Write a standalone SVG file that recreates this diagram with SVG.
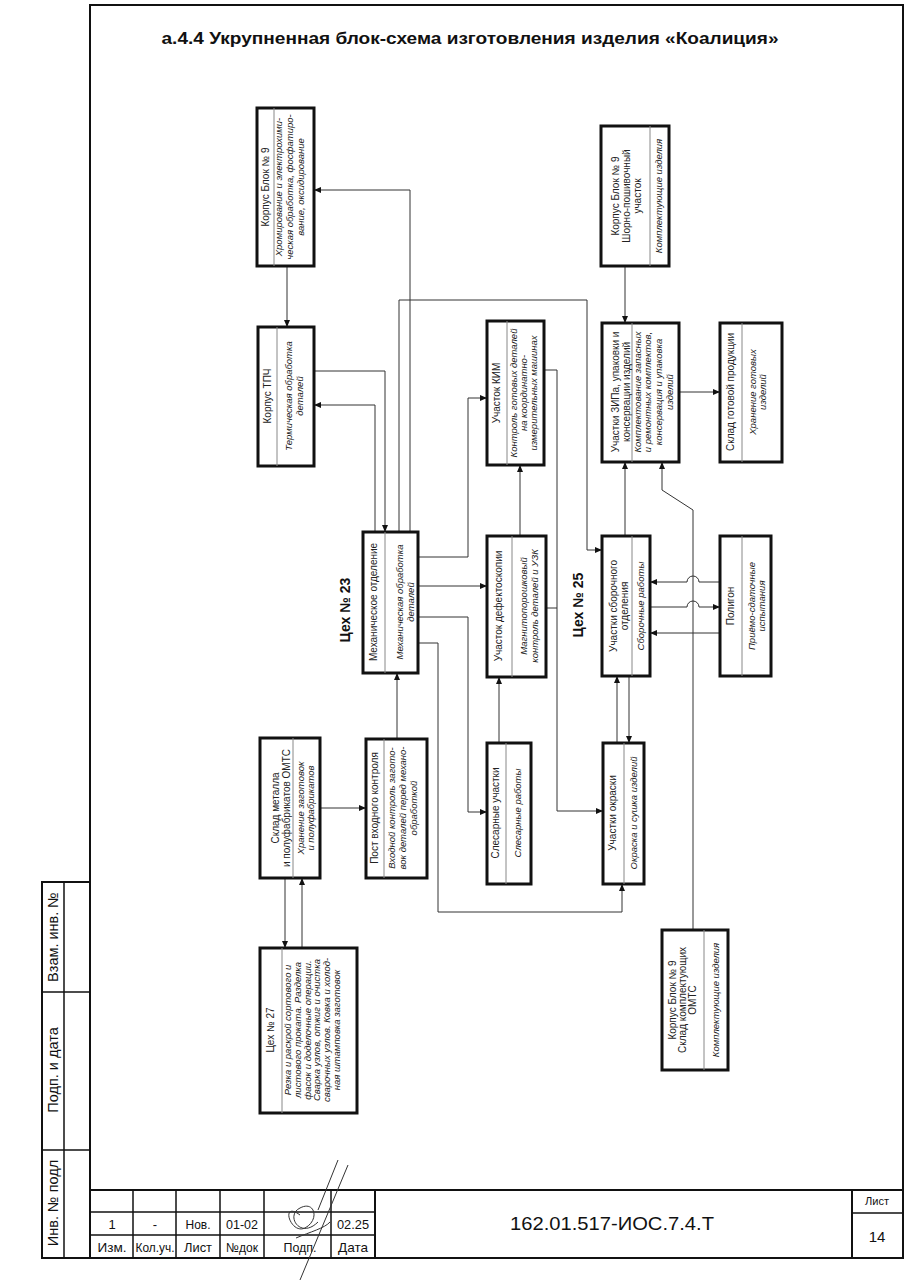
<svg xmlns="http://www.w3.org/2000/svg" width="919" height="1280" viewBox="0 0 919 1280">
<style>
.frame{fill:none;stroke:#111;stroke-width:2}
.thin{fill:none;stroke:#111;stroke-width:1.5}
.box{fill:#fff;stroke:#111;stroke-width:3}
.div{stroke:#888;stroke-width:1}
.c{fill:none;stroke:#333;stroke-width:1}
.n{font-family:"Liberation Sans",Arial,sans-serif;font-size:10px;fill:#222;text-anchor:middle}
.d{font-family:"Liberation Sans",Arial,sans-serif;font-size:9.5px;font-style:italic;fill:#222;text-anchor:middle}
.lbl{font-family:"Liberation Sans",Arial,sans-serif;font-size:14px;font-weight:bold;fill:#111;text-anchor:middle}
.tb{font-family:"Liberation Sans Narrow","Liberation Sans",Arial,sans-serif;font-size:13px;fill:#111;text-anchor:middle}
.side{font-family:"Liberation Sans",Arial,sans-serif;font-size:14.5px;fill:#111;text-anchor:middle}
</style>
<defs>
<marker id="ar" markerUnits="userSpaceOnUse" markerWidth="8" markerHeight="8" refX="7" refY="4" orient="auto">
<path d="M0,1 L7,4 L0,7 Z" fill="#111"/>
</marker>
</defs>
<rect x="0" y="0" width="919" height="1280" fill="#fff"/>

<g id="frame">
<rect class="frame" x="90" y="5" width="813" height="1253"/>
<rect class="frame" x="42" y="882" width="48" height="376"/>
<line class="thin" x1="64" y1="882" x2="64" y2="1258"/>
<line class="thin" x1="42" y1="992" x2="90" y2="992"/>
<line class="thin" x1="42" y1="1150" x2="90" y2="1150"/>
<text class="side" transform="translate(0,937) rotate(-90)" x="0" y="58">Взам. инв. №</text>
<text class="side" transform="translate(0,1070) rotate(-90)" x="0" y="58">Подп. и дата</text>
<text class="side" transform="translate(0,1203) rotate(-90)" x="0" y="58">Инв. № подл</text>
</g>

<g id="titleblock">
<line class="frame" x1="90" y1="1190" x2="903" y2="1190"/>
<line class="thin" x1="90" y1="1212" x2="375" y2="1212"/>
<line class="thin" x1="90" y1="1235" x2="375" y2="1235"/>
<line class="thin" x1="133" y1="1190" x2="133" y2="1258"/>
<line class="thin" x1="176" y1="1190" x2="176" y2="1258"/>
<line class="thin" x1="220" y1="1190" x2="220" y2="1258"/>
<line class="thin" x1="264" y1="1190" x2="264" y2="1258"/>
<line class="thin" x1="331" y1="1190" x2="331" y2="1258"/>
<line class="frame" x1="375" y1="1190" x2="375" y2="1258"/>
<line class="frame" x1="852" y1="1190" x2="852" y2="1258"/>
<line class="thin" x1="852" y1="1213" x2="903" y2="1213"/>
<text class="tb" x="112" y="1229">1</text>
<text class="tb" x="155" y="1229">-</text>
<text class="tb" x="198" y="1229" textLength="25" lengthAdjust="spacingAndGlyphs">Нов.</text>
<text class="tb" x="242" y="1229" textLength="32" lengthAdjust="spacingAndGlyphs">01-02</text>
<text class="tb" x="353" y="1229" textLength="32" lengthAdjust="spacingAndGlyphs">02.25</text>
<text class="tb" x="112" y="1252" textLength="29" lengthAdjust="spacingAndGlyphs">Изм.</text>
<text class="tb" x="155" y="1252" textLength="39" lengthAdjust="spacingAndGlyphs">Кол.уч.</text>
<text class="tb" x="198" y="1252" textLength="28" lengthAdjust="spacingAndGlyphs">Лист</text>
<text class="tb" x="242" y="1252" textLength="32" lengthAdjust="spacingAndGlyphs">№док</text>
<text class="tb" x="300" y="1252" textLength="33" lengthAdjust="spacingAndGlyphs">Подп.</text>
<text class="tb" x="353" y="1252" textLength="30" lengthAdjust="spacingAndGlyphs">Дата</text>
<text class="tb" x="612" y="1230" style="font-size:18px" textLength="204" lengthAdjust="spacingAndGlyphs">162.01.517-ИОС.7.4.Т</text>
<text class="tb" x="877" y="1205" style="font-size:11px" textLength="24" lengthAdjust="spacingAndGlyphs">Лист</text>
<text class="tb" x="877" y="1242" style="font-size:15px">14</text>
<path class="c" d="M338,1160 L318,1210 M348,1165 L300,1280 M300,1215 C280,1200 290,1235 305,1228 C320,1220 315,1200 300,1208 C285,1215 300,1240 318,1222 M296,1238 C310,1232 325,1228 330,1222" stroke="#444"/>
</g>

<text x="470" y="44" style="font-family:'Liberation Sans',Arial,sans-serif;font-size:17px;font-weight:bold;fill:#111;text-anchor:middle" textLength="617" lengthAdjust="spacingAndGlyphs">а.4.4 Укрупненная блок-схема изготовления изделия «Коалиция»</text>

<g id="connectors">
<path class="c" d="M410,532 V190 H314" marker-end="url(#ar)"/>
<path class="c" d="M287,266 V327" marker-end="url(#ar)"/>
<path class="c" d="M314,371 H385 V532" marker-end="url(#ar)"/>
<path class="c" d="M375,532 V405 H314" marker-end="url(#ar)"/>
<path class="c" d="M399,532 V300 H587 V550 H602" marker-end="url(#ar)"/>
<path class="c" d="M418,557 H468 V398 H487" marker-end="url(#ar)"/>
<path class="c" d="M418,586 H487" marker-end="url(#ar)"/>
<path class="c" d="M418,617 H468 V812 H487" marker-end="url(#ar)"/>
<path class="c" d="M418,643 H438 V912 H622 V884" marker-end="url(#ar)"/>
<path class="c" d="M544,370 H557 V811 H603" marker-end="url(#ar)"/>
<path class="c" d="M546,608 H557"/>
<path class="c" d="M520,536 V465" marker-end="url(#ar)"/>
<path class="c" d="M499,743 V677" marker-end="url(#ar)"/>
<path class="c" d="M397,739 V673" marker-end="url(#ar)"/>
<path class="c" d="M320,808 H366" marker-end="url(#ar)"/>
<path class="c" d="M285,878 V948" marker-end="url(#ar)"/>
<path class="c" d="M302,948 V878" marker-end="url(#ar)"/>
<path class="c" d="M625,266 V323" marker-end="url(#ar)"/>
<path class="c" d="M625,536 V462" marker-end="url(#ar)"/>
<path class="c" d="M679,392 H720" marker-end="url(#ar)"/>
<path class="c" d="M693,930 V510 L662,490 V462" marker-end="url(#ar)"/>
<path class="c" d="M720,582 H699 A6,6 0 0 0 687,582 H650" marker-end="url(#ar)"/>
<path class="c" d="M650,607 H687 A6,6 0 0 1 699,607 H720" marker-end="url(#ar)"/>
<path class="c" d="M720,633 H650" marker-end="url(#ar)"/>
<path class="c" d="M617,743 V676" marker-end="url(#ar)"/>
<path class="c" d="M629,676 V743" marker-end="url(#ar)"/>
</g>

<text class="lbl" transform="translate(0,610) rotate(-90)" x="0" y="350">Цех № 23</text>
<text class="lbl" transform="translate(0,605) rotate(-90)" x="0" y="583">Цех № 25</text>

<g id="khrom">
<rect class="box" x="257" y="108" width="57" height="158"/>
<line class="div" x1="274" y1="108" x2="274" y2="266"/>
<text class="n" transform="translate(0,187) rotate(-90)" x="0" y="269">Корпус Блок № 9</text>
<text class="d" transform="translate(0,187) rotate(-90)"><tspan x="0" y="282">Хромирование и электрохими-</tspan><tspan x="0" y="293">ческая обработка, фосфатиро-</tspan><tspan x="0" y="304">вание, оксидирование</tspan></text>
</g>

<g id="tpch">
<rect class="box" x="258" y="327" width="56" height="139"/>
<line class="div" x1="277" y1="327" x2="277" y2="466"/>
<text class="n" transform="translate(0,396) rotate(-90)" x="0" y="271">Корпус ТПЧ</text>
<text class="d" transform="translate(0,396) rotate(-90)"><tspan x="0" y="292">Термическая обработка</tspan><tspan x="0" y="303">деталей</tspan></text>
</g>

<g id="shorno">
<rect class="box" x="601" y="126" width="68" height="140"/>
<line class="div" x1="650" y1="126" x2="650" y2="266"/>
<text class="n" transform="translate(0,196) rotate(-90)"><tspan x="0" y="619">Корпус Блок № 9</tspan><tspan x="0" y="630">Шорно-пошивочный</tspan><tspan x="0" y="641">участок</tspan></text>
<text class="d" transform="translate(0,196) rotate(-90)" x="0" y="662">Комплектующие изделия</text>
</g>

<g id="zip">
<rect class="box" x="602" y="323" width="77" height="139"/>
<line class="div" x1="632" y1="323" x2="632" y2="462"/>
<text class="n" transform="translate(0,392) rotate(-90)"><tspan x="0" y="619">Участки ЗИПа, упаковки и</tspan><tspan x="0" y="630">консервации изделий</tspan></text>
<text class="d" transform="translate(0,392) rotate(-90)"><tspan x="0" y="641">Комплектование запасных</tspan><tspan x="0" y="651">и ремонтных комплектов,</tspan><tspan x="0" y="662">консервация и упаковка</tspan><tspan x="0" y="673">изделий</tspan></text>
</g>

<g id="sklad_got">
<rect class="box" x="720" y="323" width="62" height="139"/>
<line class="div" x1="742" y1="323" x2="742" y2="462"/>
<text class="n" transform="translate(0,392) rotate(-90)" x="0" y="734">Склад готовой продукции</text>
<text class="d" transform="translate(0,392) rotate(-90)"><tspan x="0" y="756">Хранение готовых</tspan><tspan x="0" y="766">изделий</tspan></text>
</g>

<g id="kim">
<rect class="box" x="487" y="321" width="57" height="144"/>
<line class="div" x1="507" y1="321" x2="507" y2="465"/>
<text class="n" transform="translate(0,393) rotate(-90)" x="0" y="500">Участок КИМ</text>
<text class="d" transform="translate(0,393) rotate(-90)"><tspan x="0" y="517">Контроль готовых деталей</tspan><tspan x="0" y="527">на координатно-</tspan><tspan x="0" y="537">измерительных машинах</tspan></text>
</g>

<g id="mech">
<rect class="box" x="363" y="532" width="55" height="141"/>
<line class="div" x1="385" y1="532" x2="385" y2="673"/>
<text class="n" transform="translate(0,602) rotate(-90)" x="0" y="377">Механическое отделение</text>
<text class="d" transform="translate(0,602) rotate(-90)"><tspan x="0" y="403">Механическая обработка</tspan><tspan x="0" y="414">деталей</tspan></text>
</g>

<g id="defekt">
<rect class="box" x="487" y="536" width="59" height="141"/>
<line class="div" x1="512" y1="536" x2="512" y2="677"/>
<text class="n" transform="translate(0,606) rotate(-90)" x="0" y="502">Участок дефектоскопии</text>
<text class="d" transform="translate(0,606) rotate(-90)"><tspan x="0" y="527">Магнитопорошковый</tspan><tspan x="0" y="538">контроль деталей и УЗК</tspan></text>
</g>

<g id="sborka">
<rect class="box" x="602" y="536" width="48" height="140"/>
<line class="div" x1="632" y1="536" x2="632" y2="676"/>
<text class="n" transform="translate(0,606) rotate(-90)"><tspan x="0" y="617">Участки сборочного</tspan><tspan x="0" y="628">отделения</tspan></text>
<text class="d" transform="translate(0,606) rotate(-90)" x="0" y="644">Сборочные  работы</text>
</g>

<g id="poligon">
<rect class="box" x="720" y="536" width="51" height="140"/>
<line class="div" x1="742" y1="536" x2="742" y2="676"/>
<text class="n" transform="translate(0,606) rotate(-90)" x="0" y="734">Полигон</text>
<text class="d" transform="translate(0,606) rotate(-90)"><tspan x="0" y="755">Приёмо-сдаточные</tspan><tspan x="0" y="765">испытания</tspan></text>
</g>

<g id="sklad_met">
<rect class="box" x="260" y="738" width="60" height="140"/>
<line class="div" x1="293" y1="738" x2="293" y2="878"/>
<text class="n" transform="translate(0,808) rotate(-90)"><tspan x="0" y="279">Склад металла</tspan><tspan x="0" y="290">и полуфабрикатов ОМТС</tspan></text>
<text class="d" transform="translate(0,808) rotate(-90)"><tspan x="0" y="304">Хранение заготовок</tspan><tspan x="0" y="314">и полуфабрикатов</tspan></text>
</g>

<g id="post">
<rect class="box" x="366" y="739" width="61" height="139"/>
<line class="div" x1="384" y1="739" x2="384" y2="878"/>
<text class="n" transform="translate(0,808) rotate(-90)" x="0" y="378">Пост входного контроля</text>
<text class="d" transform="translate(0,808) rotate(-90)"><tspan x="0" y="395">Входной контроль загото-</tspan><tspan x="0" y="406">вок деталей перед механо-</tspan><tspan x="0" y="417">обработкой</tspan></text>
</g>

<g id="slesar">
<rect class="box" x="487" y="743" width="44" height="141"/>
<line class="div" x1="506" y1="743" x2="506" y2="884"/>
<text class="n" transform="translate(0,813) rotate(-90)" x="0" y="499">Слесарные участки</text>
<text class="d" transform="translate(0,813) rotate(-90)" x="0" y="521">Слесарные работы</text>
</g>

<g id="okraska">
<rect class="box" x="603" y="743" width="41" height="141"/>
<line class="div" x1="624" y1="743" x2="624" y2="884"/>
<text class="n" transform="translate(0,813) rotate(-90)" x="0" y="616">Участки окраски</text>
<text class="d" transform="translate(0,813) rotate(-90)" x="0" y="637">Окраска и сушка изделий</text>
</g>

<g id="tseh27">
<rect class="box" x="260" y="948" width="97" height="165"/>
<line class="div" x1="282" y1="948" x2="282" y2="1113"/>
<text class="n" transform="translate(0,1030) rotate(-90)" x="0" y="274">Цех № 27</text>
<text class="d" transform="translate(0,1030) rotate(-90)"><tspan x="0" y="291">Резка и раскрой сортового и</tspan><tspan x="0" y="301">листового проката. Разделка</tspan><tspan x="0" y="311">фасок и доделочные операции.</tspan><tspan x="0" y="320">Сварка узлов, отжиг и очистка</tspan><tspan x="0" y="330">сварочных узлов. Ковка и холод-</tspan><tspan x="0" y="340">ная штамповка заготовок</tspan></text>
</g>

<g id="komplekt">
<rect class="box" x="662" y="930" width="66" height="140"/>
<line class="div" x1="704" y1="930" x2="704" y2="1070"/>
<text class="n" transform="translate(0,1000) rotate(-90)"><tspan x="0" y="676">Корпус Блок № 9</tspan><tspan x="0" y="686">Склад комплектующих</tspan><tspan x="0" y="696">ОМТС</tspan></text>
<text class="d" transform="translate(0,1000) rotate(-90)" x="0" y="719">Комплектующие изделия</text>
</g>
</svg>
